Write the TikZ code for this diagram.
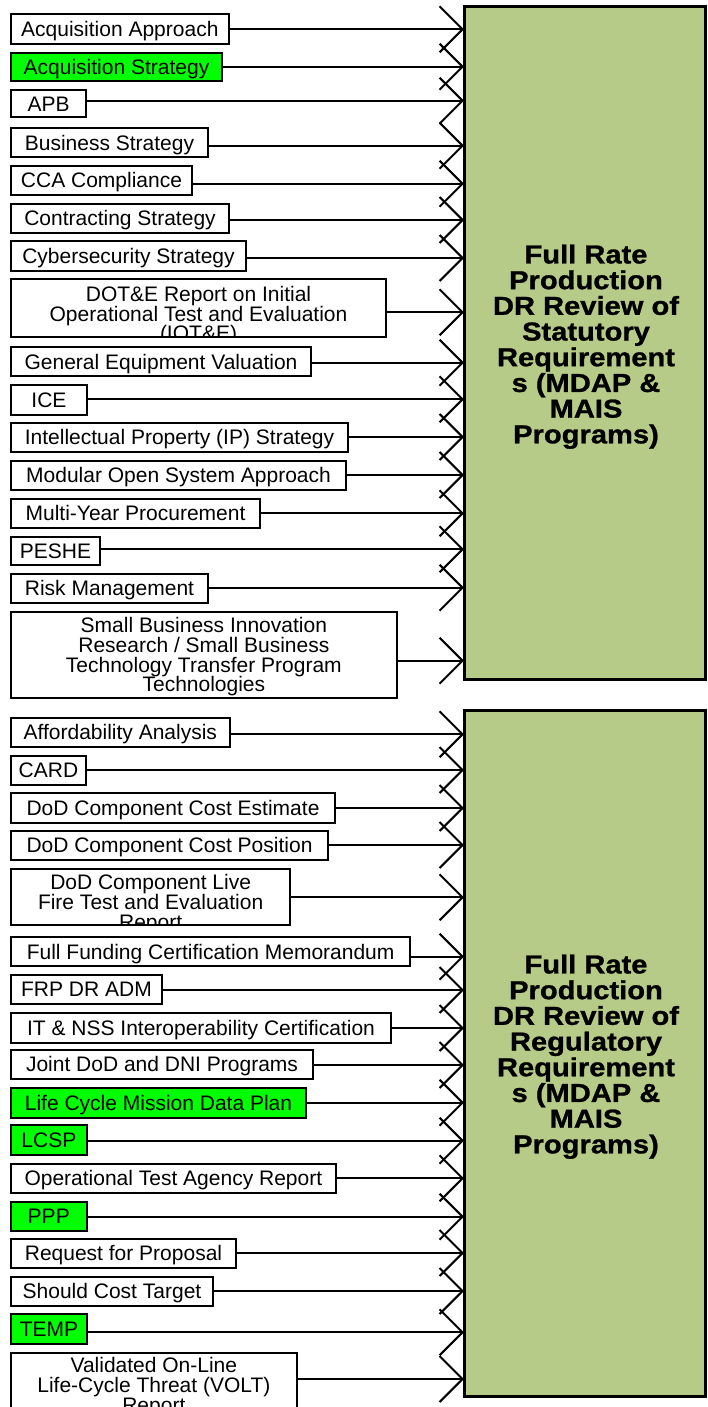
\documentclass[tikz,border=0pt]{standalone}
\usepackage{fontspec}
\setmainfont{Liberation Sans}
\newfontfamily\bigfont[FakeStretch=1.12,FakeBold=1]{Liberation Sans}
\usetikzlibrary{arrows.meta}
\definecolor{olivegreen}{RGB}{183,203,137}
\definecolor{hlgreen}{RGB}{0,255,0}
\tikzset{
  lbox/.style={draw=black,line width=2pt,fill=white,inner sep=0pt,outer sep=0pt,
    anchor=north west,text height=15pt,text depth=0pt,
    font={\fontsize{21pt}{19.6pt}\selectfont}},
  hl/.style={fill=hlgreen},
  mtext/.style={inner sep=0pt,outer sep=0pt,align=center,anchor=north,
    font={\fontsize{21pt}{19.6pt}\selectfont}},
  conn/.style={line width=2pt,-{Straight Barb[length=23pt,width=46pt]}},
  bigbox/.style={draw=black,line width=3pt,fill=olivegreen,inner sep=0pt,
    outer sep=0pt,anchor=north west},
  bigtext/.style={inner sep=0pt,align=center,anchor=north,
    font={\fontsize{26pt}{25.7pt}\bigfont\bfseries}}
}
% #1 name, #2 style, #3 top, #4 bottom, #5 right, #6 line y, #7 target, #8 text
\newcommand\lbx[8]{%
  \pgfmathsetmacro\bw{#5-11}\pgfmathsetmacro\bh{#4-#3}%
  \pgfmathsetmacro\dy{(#4+#3)/2-#6}%
  \node[lbox,#2,minimum width=\bw pt,minimum height=\bh pt] (#1) at (11,#3) {#8};
  \coordinate (#1c) at ([yshift=\dy pt]#1.east);
  \draw[conn] (#1c) -- (#1c -| #7.west);
}
% #1 name, #2 top, #3 bottom, #4 right, #5 line y, #6 target, #7 first baseline, #8 text
\newcommand\mlx[8]{%
  \pgfmathsetmacro\bw{#4-11}\pgfmathsetmacro\bh{#3-#2}%
  \pgfmathsetmacro\dy{(#3+#2)/2-#5}%
  \pgfmathsetmacro\cx{(11+#4)/2}\pgfmathsetmacro\ty{#7-15.3}%
  \node[lbox,minimum width=\bw pt,minimum height=\bh pt] (#1) at (11,#2) {};
  \begin{scope}
    \clip (#1.south west) rectangle (#1.north east);
    \node[mtext] (#1t) at (\cx,\ty) {#8};
  \end{scope}
  \coordinate (#1c) at ([yshift=\dy pt]#1.east);
  \draw[conn] (#1c) -- (#1c -| #6.west);
}
\begin{document}
\begin{tikzpicture}[x=1pt,y=-1pt]
\useasboundingbox (0,0) rectangle (708,1407);
\node[bigbox,minimum width=241.5pt,minimum height=672.5pt] (big1) at (464,6.5) {};
\node[bigtext] (t1) at (586,244.4) {Full Rate\\Production\\DR Review of\\Statutory\\Requirement\\s (MDAP \&\\MAIS\\Programs)};
\node[bigbox,minimum width=241.5pt,minimum height=686.5pt] (big2) at (464,710) {};
\node[bigtext] (t2) at (586,954.4) {Full Rate\\Production\\DR Review of\\Regulatory\\Requirement\\s (MDAP \&\\MAIS\\Programs)};

\lbx{a1}{}{14.3}{43.7}{228.7}{29.3}{big1}{Acquisition Approach}
\lbx{a2}{hl}{52.7}{81}{222}{66.7}{big1}{Acquisition Strategy}
\lbx{a3}{}{89.7}{117.5}{86.3}{100.7}{big1}{APB}
\lbx{a4}{}{128}{157.5}{208}{145.7}{big1}{Business Strategy}
\lbx{a5}{}{166}{195}{192}{183.7}{big1}{CCA Compliance}
\lbx{a6}{}{203.5}{233}{229}{220}{big1}{Contracting Strategy}
\lbx{a7}{}{241}{270.5}{246}{258}{big1}{Cybersecurity Strategy}
\mlx{a8}{279.3}{336.5}{386}{312.3}{big1}{301.7}{DOT\&E Report on Initial\\Operational Test and Evaluation\\(IOT\&E)}
\lbx{a9}{}{347}{376.3}{311}{362.7}{big1}{General Equipment Valuation}
\lbx{a10}{}{385}{415}{87}{399.3}{big1}{ICE}
\lbx{a11}{}{422.5}{452}{348}{437}{big1}{Intellectual Property (IP) Strategy}
\lbx{a12}{}{460.5}{490}{346}{475}{big1}{Modular Open System Approach}
\lbx{a13}{}{498.5}{528}{260}{513.3}{big1}{Multi-Year Procurement}
\lbx{a14}{}{536.5}{564.5}{100}{549.3}{big1}{PESHE}
\lbx{a15}{}{573.5}{603}{208}{587.7}{big1}{Risk Management}
\mlx{a16}{612}{698.3}{396.7}{660.7}{big1}{633}{Small Business Innovation\\Research / Small Business\\Technology Transfer Program\\Technologies}

\lbx{b1}{}{717.7}{746.7}{229.7}{734.3}{big2}{Affordability Analysis}
\lbx{b2}{}{755.5}{784.5}{86}{770}{big2}{CARD}
\lbx{b3}{}{793}{822.5}{335}{808}{big2}{DoD Component Cost Estimate}
\lbx{b4}{}{830.5}{860}{328}{845}{big2}{DoD Component Cost Position}
\mlx{b5}{869.3}{925}{290.3}{897.3}{big2}{890}{DoD Component Live\\Fire Test and Evaluation\\Report}
\lbx{b6}{}{937}{966}{410.3}{956.7}{big2}{Full Funding Certification Memorandum}
\lbx{b7}{}{974.5}{1004}{162}{990}{big2}{FRP DR ADM}
\lbx{b8}{}{1012.5}{1042.5}{391}{1028}{big2}{IT \& NSS Interoperability Certification}
\lbx{b9}{}{1049.5}{1079}{313}{1065}{big2}{Joint DoD and DNI Programs}
\lbx{b10}{hl}{1087.7}{1117.7}{306}{1102.7}{big2}{Life Cycle Mission Data Plan}
\lbx{b11}{hl}{1125.3}{1155.3}{86.7}{1140.7}{big2}{LCSP}
\lbx{b12}{}{1163.7}{1193}{335.7}{1178.3}{big2}{Operational Test Agency Report}
\lbx{b13}{hl}{1201.7}{1231}{86.5}{1216.7}{big2}{PPP}
\lbx{b14}{}{1238.5}{1268}{236}{1253}{big2}{Request for Proposal}
\lbx{b15}{}{1276.5}{1306}{213}{1291}{big2}{Should Cost Target}
\lbx{b16}{hl}{1314.3}{1344.3}{87}{1332.3}{big2}{TEMP}
\mlx{b17}{1352.7}{1420}{296.7}{1379}{big2}{1373}{Validated On-Line\\Life-Cycle Threat (VOLT)\\Report}
\end{tikzpicture}
\end{document}
